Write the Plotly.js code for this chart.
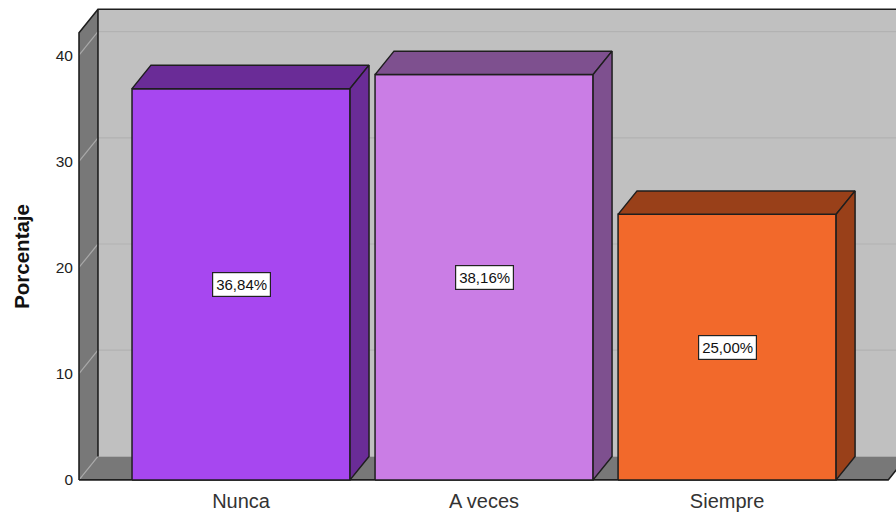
<!DOCTYPE html>
<html>
<head>
<meta charset="utf-8">
<script src="https://cdn.plot.ly/plotly-3.0.1.min.js"></script>
<style>html,body{margin:0;padding:0;background:#fff;}#chart{width:896px;height:515px;}</style>
</head>
<body>
<div id="chart"></div>
<script>
// ---- data ----
const categories = ["Nunca", "A veces", "Siempre"];
const percentages = [36.84, 38.16, 25.00];
const frontColors = ["#a747f0", "#ca7de5", "#f2692b"];
const darkColors  = ["#6a2c97", "#7e508f", "#994019"];
const yTicks = [0, 10, 20, 30, 40];
const yTitle = "Porcentaje";

// ---- 3D geometry (data units) ----
const DX = 0.078, DY = 2.21;      // depth offset
const HALF = 0.4486;               // half bar width
const X0 = -0.6667, XR = 2.663;    // front-left wall edge, front-right floor edge
const H = 42.1;                    // wall height (front plane)
const FAR = 3.2;                   // beyond right edge (clipped)
const EDGE = "#1e1e1e";

const traces = [];
function poly(xs, ys, fill, line, lw) {
  traces.push({type: "scatter", mode: "lines", x: xs, y: ys,
    fill: fill ? "toself" : "none", fillcolor: fill || undefined,
    line: {color: line || "rgba(0,0,0,0)", width: lw || 1},
    hoverinfo: "skip", showlegend: false});
}
// back wall
poly([X0+DX, X0+DX, FAR, FAR, X0+DX], [DY, H+DY, H+DY, DY, DY], "#c0c0c0", null, 0);
// left wall
poly([X0, X0, X0+DX, X0+DX, X0], [0, H, H+DY, DY, 0], "#787878", null, 0);
// floor
poly([X0, XR, XR+DX, FAR, FAR, X0+DX, X0], [0, 0, DY, DY, DY, DY, 0], "#787878", null, 0);
// back wall gridlines
yTicks.filter(v => v > 0).forEach(v => poly([X0+DX, FAR], [v+DY, v+DY], null, "#b2b2b2", 1.2));
// left wall diagonal gridlines
yTicks.forEach(v => poly([X0, X0+DX], [v, v+DY], null, "#a9a9a9", 1.2));
// outlines
poly([X0, X0, X0+DX, FAR], [0, H, H+DY, H+DY], null, EDGE, 1.6);
poly([X0+DX, X0+DX], [DY, H+DY], null, EDGE, 1.6);
poly([X0, XR, XR+DX], [0, 0, DY], null, EDGE, 1.6);

// bars
percentages.forEach((v, i) => {
  const l = i - HALF, r = i + HALF;
  poly([l, l, r, r, l], [0, v, v, 0, 0], frontColors[i], EDGE, 1.5);
  poly([l, l+DX, r+DX, r, l], [v, v+DY, v+DY, v, v], darkColors[i], EDGE, 1.5);
  poly([r, r, r+DX, r+DX, r], [0, v, v+DY, DY, 0], darkColors[i], EDGE, 1.5);
});

const annotations = percentages.map((v, i) => ({
  x: i, y: v / 2, xref: "x", yref: "y", showarrow: false,
  text: v.toFixed(2).replace(".", ",") + "%",
  font: {family: "Arial, 'Liberation Sans', sans-serif", size: 15, color: "#111"},
  bgcolor: "#ffffff", bordercolor: "#222", borderwidth: 1.2, borderpad: 3
}));
annotations.push({
  xref: "paper", yref: "paper", x: -0.0672, y: 0.475, xanchor: "center", yanchor: "middle",
  showarrow: false, textangle: -90, text: yTitle,
  font: {family: "Arial, 'Liberation Sans', sans-serif", size: 20.5, weight: "bold", color: "#111"}
});

const layout = {
  width: 896, height: 515,
  margin: {l: 77, r: 0, t: 6, b: 33},
  paper_bgcolor: "#ffffff", plot_bgcolor: "#ffffff",
  font: {family: "Arial, 'Liberation Sans', sans-serif", color: "#222"},
  xaxis: {range: [-0.675, 2.695], showgrid: false, zeroline: false, showline: false,
    tickvals: categories.map((c, i) => i), ticktext: categories, ticks: "",
    tickfont: {size: 20, color: "#333"}, ticklabelstandoff: 5, fixedrange: true, automargin: false},
  yaxis: {range: [-0.2, 44.62], showgrid: false, zeroline: false, showline: false,
    tickvals: yTicks, ticks: "", tickfont: {size: 15.5, color: "#222"}, ticklabelstandoff: 3,
    fixedrange: true, automargin: false},
  annotations: annotations,
  showlegend: false
};
Plotly.newPlot("chart", traces, layout, {displayModeBar: false, staticPlot: true});
</script>
</body>
</html>
